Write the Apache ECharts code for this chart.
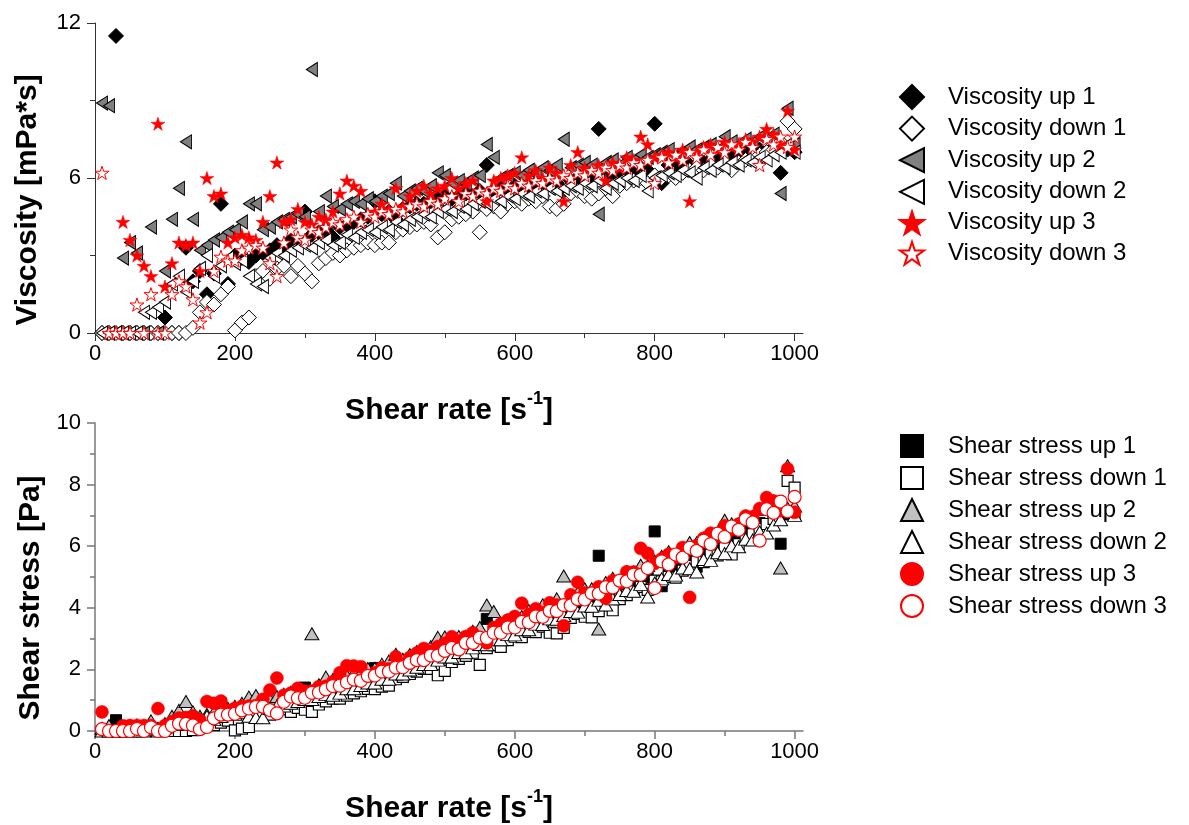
<!DOCTYPE html>
<html><head><meta charset="utf-8">
<script src="https://cdn.jsdelivr.net/npm/echarts@6/dist/echarts.min.js"></script>
<style>html,body{margin:0;padding:0;background:#fff}#c{width:1189px;height:825px}</style>
</head><body><div id="c"></div>
<script>
// ---------- data ----------
const shearRate = [10,20,30,40,50,60,70,80,90,100,110,120,130,140,150,160,170,180,190,200,
210,220,230,240,250,260,270,280,290,300,310,320,330,340,350,360,370,380,390,400,
410,420,430,440,450,460,470,480,490,500,510,520,530,540,550,560,570,580,590,600,
610,620,630,640,650,660,670,680,690,700,710,720,730,740,750,760,770,780,790,800,
810,820,830,840,850,860,870,880,890,900,910,920,930,940,950,960,970,980,990,1000];

const xTicks = [0,200,400,600,800,1000];
const xMinorTicks = [100,300,500,700,900];
const viscTicks = [0,6,12];
const stressTicks = [0,2,4,6,8,10];

const viscNames = ['Viscosity up 1','Viscosity down 1','Viscosity up 2','Viscosity down 2','Viscosity up 3','Viscosity down 3'];
const stressNames = ['Shear stress up 1','Shear stress down 1','Shear stress up 2','Shear stress down 2','Shear stress up 3','Shear stress down 3'];

const viscUp1 = [0,0,11.5,0,0,0,0,0,0,0.6,
0,0,3.3,2.0,2.4,1.5,2.3,5.0,1.9,3.0,
2.9,2.75,3.0,3.1,3.2,3.4,3.3,3.6,3.5,4.7,
3.8,3.9,4.0,3.7,4.1,4.2,4.3,4.4,4.5,5.1,
4.6,4.7,4.4,4.8,4.9,5.0,5.0,5.1,5.2,5.3,
5.2,5.3,5.4,5.3,5.5,6.5,5.5,5.6,5.5,5.7,
5.6,5.7,5.8,5.7,5.9,5.8,5.5,5.9,6.0,6.0,
6.1,7.9,6.0,6.2,6.1,6.3,6.2,6.4,6.3,8.1,
5.8,6.5,6.4,6.6,6.5,6.2,6.6,6.7,6.8,6.7,
6.8,6.9,7.0,6.9,7.1,7.0,7.2,6.2,7.1,7.0];
const viscDown1 = [0,0,0,0,0,0,0,0,0,0,
0,0,0,0.2,0.8,1.2,1.1,1.5,1.8,0.1,
0.4,0.6,2.2,2.4,2.1,2.5,2.6,2.2,2.6,2.3,
2.0,2.7,2.9,3.1,3.0,3.2,3.3,3.4,3.5,3.4,
3.5,3.5,3.9,4.0,4.1,4.2,4.3,4.2,3.7,3.9,
4.4,4.5,4.6,4.7,3.9,4.8,4.9,4.7,5.0,5.1,
5.0,5.2,5.1,5.3,4.9,4.8,5.0,5.4,5.5,5.3,
5.2,5.4,5.6,5.3,5.7,5.8,5.9,6.0,5.8,6.1,
6.0,6.1,6.0,6.2,6.3,6.4,6.3,6.5,6.4,6.6,
6.3,6.6,6.7,6.8,6.9,7.0,7.1,7.4,8.2,7.9];
const viscUp2 = [8.9,8.8,0,2.9,3.5,3.1,0,4.1,0,2.4,
4.4,5.6,7.4,4.4,3.2,3.4,3.6,3.7,3.9,4.0,
4.3,5.0,5.0,4.0,4.1,4.3,4.4,4.5,4.6,4.5,
10.2,4.7,5.3,4.9,4.8,5.0,5.1,5.0,5.2,5.1,
5.3,5.4,5.8,5.3,5.5,5.6,5.5,5.7,6.2,6.1,
5.8,5.9,5.8,6.0,6.1,7.3,6.8,6.0,6.1,6.2,
6.1,6.3,6.2,6.4,6.3,6.5,7.5,6.4,6.5,6.6,
6.5,4.6,6.6,6.7,6.5,6.8,6.7,6.9,6.8,6.9,
7.0,7.1,6.9,7.0,7.2,7.1,7.2,7.3,7.1,7.6,
7.4,7.3,7.5,7.4,7.6,7.5,7.7,5.4,8.7,7.3];
const viscDown2 = [0,0,0,0,0,0,0.8,0.8,1.0,1.2,
1.9,2.2,1.6,2.0,2.5,3.0,2.2,2.6,2.9,2.7,
2.8,2.2,1.9,1.8,2.9,3.1,3.0,3.2,3.3,3.4,
3.3,3.5,3.6,3.4,3.5,3.8,3.7,3.9,4.0,3.9,
4.1,4.0,4.3,4.2,4.4,4.5,4.6,4.5,4.7,4.8,
4.7,4.9,4.8,5.0,5.1,5.0,5.2,5.1,5.3,5.2,
5.4,5.3,5.5,5.4,5.6,5.5,5.6,5.7,5.6,5.8,
5.7,5.9,5.6,5.8,5.9,6.0,5.9,6.1,5.5,6.0,
6.1,6.2,6.1,6.3,6.2,6.0,6.4,6.3,6.5,6.4,
6.6,6.5,6.7,6.6,6.8,6.7,6.9,7.0,7.3,7.0];
const viscUp3 = [62,0,0,4.3,3.6,3.0,2.6,2.2,8.1,1.8,
2.7,3.5,3.4,3.5,2.4,6.0,5.3,5.4,3.5,3.7,
3.8,3.7,3.6,4.3,5.3,6.6,4.3,4.4,4.8,4.3,
4.2,4.5,4.4,4.7,5.4,5.9,5.7,5.5,4.6,4.7,
5.0,4.8,5.6,4.9,5.3,5.5,5.7,5.4,5.6,5.7,
6.0,5.6,5.8,5.9,5.5,5.1,5.9,6.0,6.1,6.2,
6.8,6.1,6.3,6.0,6.4,6.2,5.1,6.5,7.0,6.4,
6.3,6.5,5.9,6.6,6.4,6.8,6.7,7.6,7.3,6.8,
6.9,7.0,6.8,7.1,5.1,7.0,7.2,7.3,7.1,7.4,
7.2,7.3,7.5,7.4,7.6,7.9,7.7,7.3,8.6,7.1];
const viscDown3 = [6.2,0,0,0,0,1.1,0,1.5,0,0,
1.5,2.0,1.8,1.3,0.4,0.8,2.4,2.95,2.8,2.8,
3.2,3.3,3.4,3.3,2.7,2.2,3.5,4.0,3.7,3.6,
4.0,3.9,4.1,4.3,4.2,4.4,4.5,4.3,4.6,4.5,
4.7,4.6,4.8,4.7,4.9,5.0,4.9,5.1,5.0,5.2,
5.3,5.1,5.4,5.3,5.5,5.4,5.6,5.5,5.7,5.6,
5.8,5.7,5.9,5.8,6.0,5.9,6.1,6.0,6.2,6.1,
6.3,6.2,6.4,6.3,6.5,6.4,6.6,6.5,6.7,5.8,
6.8,6.6,6.9,6.7,7.0,6.8,7.1,6.9,7.2,7.0,
7.3,7.1,7.4,7.2,6.5,7.5,7.3,7.6,7.2,7.6];

const stressUp1 = [0,0,0.35,0,0,0,0,0,0,0.06,
0,0,0.43,0.28,0.36,0.24,0.39,0.90,0.36,0.60,
0.61,0.61,0.69,0.74,0.80,0.88,0.89,1.01,1.02,1.41,
1.18,1.25,1.32,1.26,1.44,1.51,1.59,1.67,1.76,2.04,
1.89,1.97,1.89,2.11,2.21,2.30,2.35,2.45,2.55,2.65,
2.65,2.76,2.86,2.86,3.03,3.64,3.14,3.25,3.25,3.42,
3.42,3.53,3.65,3.65,3.84,3.83,3.69,4.01,4.14,4.20,
4.33,5.69,4.38,4.59,4.58,4.79,4.77,4.99,4.98,6.48,
4.70,5.33,5.31,5.54,5.53,5.33,5.74,5.90,6.05,6.03,
6.19,6.35,6.51,6.49,6.75,6.72,6.98,6.08,7.03,7.00];
const stressDown1 = [0,0,0,0,0,0,0,0,0,0,
0,0,0,0.03,0.12,0.19,0.19,0.27,0.34,0.02,
0.08,0.13,0.51,0.58,0.53,0.65,0.70,0.62,0.75,0.69,
0.62,0.86,0.96,1.05,1.05,1.15,1.22,1.29,1.37,1.36,
1.44,1.47,1.68,1.76,1.85,1.93,2.02,2.02,1.81,1.95,
2.24,2.34,2.44,2.54,2.15,2.69,2.79,2.73,2.95,3.06,
3.05,3.22,3.21,3.39,3.19,3.17,3.35,3.67,3.80,3.71,
3.69,3.89,4.09,3.92,4.28,4.41,4.54,4.68,4.58,4.88,
4.86,5.00,4.98,5.21,5.36,5.50,5.48,5.72,5.70,5.94,
5.73,6.07,6.23,6.39,6.56,6.72,6.89,7.25,8.12,7.90];
const stressUp2 = [0.09,0.18,0,0.12,0.18,0.19,0,0.33,0,0.24,
0.48,0.67,0.96,0.62,0.48,0.54,0.61,0.67,0.74,0.80,
0.90,1.10,1.15,0.96,1.03,1.12,1.19,1.26,1.33,1.35,
3.16,1.50,1.75,1.67,1.68,1.80,1.89,1.90,2.03,2.04,
2.17,2.27,2.49,2.33,2.48,2.58,2.59,2.74,3.04,3.05,
2.96,3.07,3.07,3.24,3.36,4.09,3.88,3.48,3.60,3.72,
3.72,3.91,3.91,4.10,4.10,4.29,5.03,4.35,4.49,4.62,
4.62,3.31,4.82,4.96,4.88,5.17,5.16,5.38,5.37,5.52,
5.67,5.82,5.73,5.88,6.12,6.11,6.26,6.42,6.32,6.84,
6.73,6.72,6.98,6.96,7.22,7.20,7.47,5.29,8.61,7.30];
const stressDown2 = [0,0,0,0,0,0,0.06,0.06,0.09,0.12,
0.21,0.26,0.21,0.28,0.38,0.48,0.37,0.47,0.55,0.54,
0.59,0.48,0.44,0.43,0.73,0.81,0.81,0.90,0.96,1.02,
1.02,1.12,1.19,1.16,1.23,1.37,1.37,1.48,1.56,1.56,
1.68,1.68,1.85,1.85,1.98,2.07,2.16,2.16,2.30,2.40,
2.40,2.55,2.54,2.70,2.81,2.80,2.96,2.96,3.13,3.12,
3.29,3.29,3.47,3.46,3.64,3.63,3.75,3.88,3.86,4.06,
4.05,4.25,4.09,4.29,4.43,4.56,4.54,4.76,4.35,4.80,
4.94,5.08,5.06,5.29,5.27,5.16,5.57,5.54,5.79,5.76,
6.01,5.98,6.23,6.20,6.46,6.43,6.69,6.86,7.23,7.00];
const stressUp3 = [0.62,0,0,0.17,0.18,0.18,0.18,0.18,0.73,0.18,
0.30,0.42,0.44,0.49,0.36,0.96,0.90,0.97,0.67,0.74,
0.80,0.81,0.83,1.03,1.33,1.72,1.16,1.23,1.39,1.29,
1.30,1.44,1.45,1.60,1.89,2.12,2.11,2.09,1.79,1.88,
2.05,2.02,2.41,2.16,2.39,2.53,2.68,2.59,2.74,2.85,
3.06,2.91,3.07,3.19,3.03,2.86,3.36,3.48,3.60,3.72,
4.15,3.78,3.97,3.84,4.16,4.09,3.42,4.42,4.83,4.48,
4.47,4.68,4.31,4.88,4.80,5.17,5.16,5.93,5.77,5.44,
5.59,5.74,5.64,5.96,4.34,6.02,6.26,6.42,6.32,6.66,
6.55,6.72,6.98,6.96,7.22,7.58,7.47,7.15,8.51,7.10];
const stressDown3 = [0.06,0,0,0,0,0.07,0,0.12,0,0,
0.17,0.24,0.23,0.18,0.06,0.13,0.41,0.53,0.53,0.56,
0.67,0.73,0.78,0.79,0.68,0.57,0.95,1.12,1.07,1.08,
1.24,1.25,1.35,1.46,1.47,1.58,1.67,1.63,1.79,1.80,
1.93,1.93,2.06,2.07,2.21,2.30,2.30,2.45,2.45,2.60,
2.70,2.65,2.86,2.86,3.03,3.02,3.19,3.19,3.36,3.36,
3.54,3.53,3.72,3.71,3.90,3.89,4.09,4.08,4.28,4.27,
4.47,4.46,4.67,4.66,4.88,4.86,5.08,5.07,5.29,4.64,
5.51,5.41,5.73,5.63,5.95,5.85,6.18,6.07,6.41,6.30,
6.64,6.53,6.88,6.77,6.18,7.20,7.08,7.45,7.13,7.60];

// ---------- styling ----------
const FONT = '"Liberation Sans", Arial, Helvetica, sans-serif';
const STAR = 'path://M50,0L61.2,34.5L97.6,34.5L68.2,55.9L79.4,90.5L50,69.1L20.6,90.5L31.8,55.9L2.4,34.5L38.8,34.5Z';
const LTRI = 'path://M0,50L100,0L100,100Z';
const pts = ys => shearRate.map((x, i) => [x, ys[i]]);
const XMAX = 1012;
const plain = v => String(v);

function xAxes(grid, color, w) {
  const rich = {
    t: {fontSize: 30, fontWeight: 'bold', fontFamily: FONT, color: '#000', lineHeight: 36, verticalAlign: 'bottom'},
    s: {fontSize: 18, fontWeight: 'bold', fontFamily: FONT, color: '#000', lineHeight: 18, verticalAlign: 'top'}
  };
  return [{
    gridIndex: grid, type: 'value', min: 0, max: XMAX, position: 'bottom',
    axisLine: {show: true, onZero: false, lineStyle: {color: color, width: w}},
    axisTick: {show: true, length: 8, customValues: xTicks, lineStyle: {color: color, width: w}},
    axisLabel: {customValues: xTicks, formatter: plain, fontSize: 22, color: '#000', fontFamily: FONT, margin: 10},
    splitLine: {show: false},
    name: '{t|Shear rate [s}{s|-1}{t|]}', nameLocation: 'middle', nameGap: 57,
    nameTextStyle: {rich: rich, lineHeight: 36}
  }, {
    gridIndex: grid, type: 'value', min: 0, max: XMAX, position: 'bottom',
    axisLine: {show: false, onZero: false},
    axisTick: {show: true, length: 5, customValues: xMinorTicks, lineStyle: {color: color, width: w}},
    axisLabel: {show: false}, splitLine: {show: false}
  }];
}
function yAxis(grid, max, interval, name, gap, pad, color, w) {
  return {
    gridIndex: grid, type: 'value', min: 0, max: max, interval: interval,
    axisLine: {show: true, onZero: false, lineStyle: {color: color, width: w}},
    axisTick: {show: true, length: 8, lineStyle: {color: color, width: w}},
    minorTick: {show: true, splitNumber: 2, length: 5, lineStyle: {color: color, width: w}},
    axisLabel: {formatter: plain, fontSize: 22, color: '#000', fontFamily: FONT, margin: 14},
    splitLine: {show: false}, minorSplitLine: {show: false},
    name: name, nameLocation: 'middle', nameRotate: 90, nameGap: gap,
    nameTextStyle: {fontSize: 30, fontWeight: 'bold', color: '#000', fontFamily: FONT, padding: pad}
  };
}
function sc(name, xi, yi, data, symbol, size, fill, border, bw) {
  return {
    name: name, type: 'scatter', xAxisIndex: xi, yAxisIndex: yi, data: pts(data),
    symbol: symbol, symbolSize: size, symbolKeepAspect: symbol === STAR,
    clip: true, silent: true,
    itemStyle: {color: fill, borderColor: border, borderWidth: bw, opacity: 1}
  };
}
const legendText = pad => ({fontSize: 24, color: '#000', fontFamily: FONT, lineHeight: 24, padding: [0, 0, 0, pad]});

const chart = echarts.init(document.getElementById('c'), null, {renderer: 'canvas'});
chart.setOption({
  animation: false,
  backgroundColor: '#fff',
  grid: [
    {left: 95, top: 23, width: 708, height: 310},
    {left: 95, top: 423, width: 708, height: 310}
  ],
  xAxis: [].concat(xAxes(0, '#333', 1), xAxes(1, '#777', 1.5)),
  yAxis: [
    yAxis(0, 12, 6, 'Viscosity [mPa*s]', 52, [0, 44, 0, 0], '#333', 1),
    yAxis(1, 10, 2, 'Shear stress [Pa]', 47, [0, 42, 0, 0], '#777', 1.5)
  ],
  legend: [
    {orient: 'vertical', left: 899, top: 84, padding: 0, itemWidth: 24, itemHeight: 24, itemGap: 5.6,
     selectedMode: false, textStyle: legendText(19), data: viscNames},
    {orient: 'vertical', left: 900, top: 434, padding: 0, itemWidth: 22, itemHeight: 22, itemGap: 8.0,
     selectedMode: false, textStyle: legendText(20), data: stressNames}
  ],
  series: [
    sc(viscNames[0], 0, 0, viscUp1, 'diamond', 15, '#000', '#000', 1),
    sc(viscNames[1], 0, 0, viscDown1, 'diamond', 15, '#fff', '#000', 1),
    sc(viscNames[2], 0, 0, viscUp2, LTRI, [11, 14], '#808080', '#000', 1),
    sc(viscNames[3], 0, 0, viscDown2, LTRI, [11, 14], '#fff', '#000', 1),
    sc(viscNames[4], 0, 0, viscUp3, STAR, 14, '#ff0000', '#ff0000', 0.5),
    sc(viscNames[5], 0, 0, viscDown3, STAR, 14, '#fff', '#ff0000', 1),
    sc(stressNames[0], 2, 1, stressUp1, 'rect', 11, '#000', '#000', 1),
    sc(stressNames[1], 2, 1, stressDown1, 'rect', 11, '#fff', '#000', 1.2),
    sc(stressNames[2], 2, 1, stressUp2, 'triangle', [14, 12], '#c0c0c0', '#000', 1),
    sc(stressNames[3], 2, 1, stressDown2, 'triangle', [14, 12], '#fff', '#000', 1),
    sc(stressNames[4], 2, 1, stressUp3, 'circle', 13, '#ff0000', '#ff0000', 0.5),
    sc(stressNames[5], 2, 1, stressDown3, 'circle', 13, '#fff', '#ff0000', 1.2)
  ]
});
</script>
</body></html>
